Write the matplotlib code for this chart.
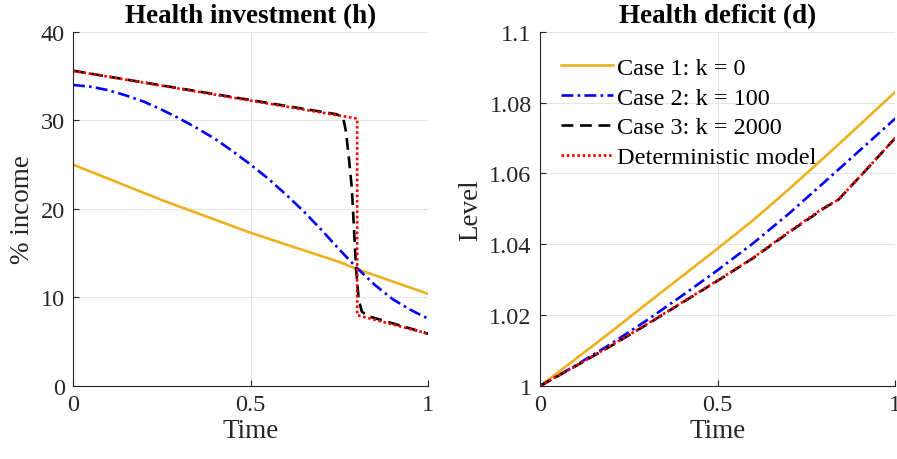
"""Health investment and health deficit paths, two panels."""

import matplotlib

matplotlib.use("Agg")
import matplotlib.pyplot as plt  # noqa: E402

plt.rcParams["font.family"] = ["Liberation Serif", "DejaVu Serif"]

# --- health investment (h), % income ---
t_case1 = [0.0, 0.25, 0.5, 0.75, 0.8, 1.0]
h_case1 = [25.0, 21.0, 17.3, 14.0, 13.2, 10.4]

t_case2 = [0.0, 0.05, 0.1, 0.15, 0.2, 0.25, 0.3, 0.35, 0.4, 0.45, 0.5,
           0.55, 0.6, 0.65, 0.7, 0.75, 0.8, 0.85, 0.9, 0.95, 1.0]
h_case2 = [34.0, 33.8, 33.4, 32.8, 32.1, 31.2, 30.2, 29.1, 27.9, 26.5, 25.0,
           23.4, 21.6, 19.7, 17.6, 15.4, 13.3, 11.4, 9.8, 8.6, 7.6]

t_case3 = [0.0, 0.74, 0.76, 0.768, 0.776, 0.785, 0.79, 0.797, 0.804, 0.813, 0.83, 1.0]
h_case3 = [35.6, 30.7, 30.4, 28.8, 26.0, 22.3, 18.5, 13.2, 9.8, 8.4, 7.9, 5.9]

t_det = [0.0, 0.8, 0.8, 1.0]
h_det = [35.6, 30.2, 8.0, 5.9]

# --- health deficit (d), level ---
t_d = [0.0, 0.1, 0.2, 0.3, 0.4, 0.5, 0.6, 0.7, 0.8, 0.9, 1.0]
d_case1 = [1.0, 1.0076, 1.0153, 1.0232, 1.031, 1.0388, 1.0468, 1.0555, 1.0645, 1.0737, 1.083]
d_case2 = [1.0, 1.0058, 1.0119, 1.0185, 1.0255, 1.0327, 1.0403, 1.0486, 1.0575, 1.0665, 1.0755]

t_d3 = [0.0, 0.1, 0.2, 0.3, 0.4, 0.5, 0.6, 0.7, 0.8, 0.84, 0.92, 1.0]
d_case3 = [1.0, 1.0056, 1.0113, 1.0173, 1.0235, 1.0297, 1.0361, 1.0433, 1.0502, 1.0526, 1.0612, 1.070]
d_det = [1.0, 1.0056, 1.0114, 1.0174, 1.0236, 1.0298, 1.0362, 1.0435, 1.0504, 1.0526, 1.0612, 1.070]

labels = ["Case 1: k = 0", "Case 2: k = 100", "Case 3: k = 2000", "Deterministic model"]
styles = [
    dict(color="#EDB120", linestyle="-"),
    dict(color="#0000FF", linestyle=(0, (4.5, 1.6, 1.0, 1.6))),
    dict(color="black", linestyle=(0, (4.5, 2.5))),
    dict(color="#FF0000", linestyle=(0, (1.0, 1.0))),
]

fig = plt.figure(figsize=(8.97, 4.6), dpi=100)
ax1 = fig.add_axes([0.0814, 0.1587, 0.396, 0.77])
ax2 = fig.add_axes([0.602, 0.1587, 0.396, 0.77])

h_series = [(t_case1, h_case1), (t_case2, h_case2), (t_case3, h_case3), (t_det, h_det)]
d_series = [(t_d, d_case1), (t_d, d_case2), (t_d3, d_case3), (t_d3, d_det)]

for (t, y), st, lab in zip(h_series, styles, labels):
    ax1.plot(t, y, lw=1.9, label=lab, **st)
for (t, y), st, lab in zip(d_series, styles, labels):
    ax2.plot(t, y, lw=1.9, label=lab, **st)

ax1.set_xlim(0, 1)
ax1.set_ylim(0, 40)
ax1.set_xticks([0, 0.5, 1])
ax1.set_xticklabels(["0", "0.5", "1"])
ax1.set_yticks([0, 10, 20, 30, 40])
ax1.set_title("Health investment (h)", fontsize=19.5, fontweight="bold", pad=7)
ax1.set_xlabel("Time", fontsize=19.5, color="#262626", labelpad=2)
ax1.set_ylabel("% income", fontsize=19.5, color="#262626", labelpad=4)

ax2.set_xlim(0, 1)
ax2.set_ylim(1, 1.1)
ax2.set_xticks([0, 0.5, 1])
ax2.set_xticklabels(["0", "0.5", "1"])
ax2.set_yticks([1, 1.02, 1.04, 1.06, 1.08, 1.1])
ax2.set_yticklabels(["1", "1.02", "1.04", "1.06", "1.08", "1.1"])
ax2.set_title("Health deficit (d)", fontsize=19.5, fontweight="bold", pad=7)
ax2.set_xlabel("Time", fontsize=19.5, color="#262626", labelpad=2)
ax2.set_ylabel("Level", fontsize=19.5, color="#262626", labelpad=4)

for ax in (ax1, ax2):
    ax.grid(True, color="#e5e5e5", linewidth=0.8)
    ax.set_axisbelow(True)
    for side in ("top", "right"):
        ax.spines[side].set_visible(False)
    for side in ("left", "bottom"):
        ax.spines[side].set_color("#262626")
        ax.spines[side].set_linewidth(0.8)
    ax.tick_params(direction="in", length=4, width=0.8, colors="#262626",
                   labelsize=17.5, pad=6)

ax2.legend(loc="upper left", frameon=False, fontsize=17.5, handlelength=2.15,
           handletextpad=0.15, labelspacing=0.32, borderaxespad=0.0,
           bbox_to_anchor=(0.032, 0.957))

fig.savefig("out.png", format="png")
plt.close(fig)
